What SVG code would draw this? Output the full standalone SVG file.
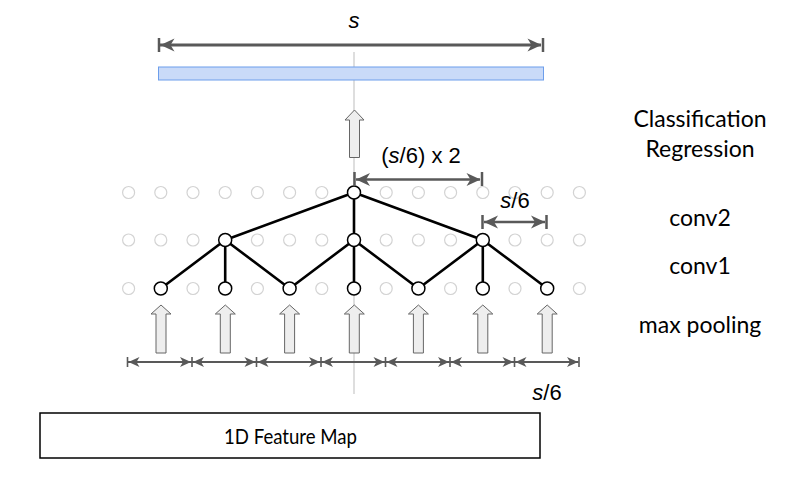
<svg xmlns="http://www.w3.org/2000/svg" width="800" height="484" viewBox="0 0 800 484">
<style>
.g{fill:#fff;stroke:#d3d3d3;stroke-width:1.2}
.n{fill:#fff;stroke:#000;stroke-width:1.5}
.e{stroke:#000;stroke-width:2.6;fill:none}
.d{stroke:#595959;fill:none}
.ah{fill:#595959;stroke:none}
.bar{stroke:#595959;stroke-width:2.5}
.up{fill:#eeeeee;stroke:#666;stroke-width:1}
.lab{font-family:Lato,"Noto Sans",sans-serif;font-size:23px;fill:#000;text-anchor:middle}
.fm{font-family:Lato,"Noto Sans",sans-serif;font-size:21px;fill:#000;text-anchor:middle}
.m{font-family:"Liberation Sans",Arial,sans-serif;font-size:22px;fill:#000;text-anchor:middle}
</style>
<defs>
<path id="hR" d="M0,0 L-14,-6.5 L-10,0 L-14,6.5 Z"/>
<path id="hL" d="M0,0 L14,-6.5 L10,0 L14,6.5 Z"/>
<path id="sR" d="M0,0 L-11,-5 L-8,0 L-11,5 Z"/>
<path id="sL" d="M0,0 L11,-5 L8,0 L11,5 Z"/>
<path id="upArrow" d="M-5,47 L-5,8 L-10,8 L0,-1 L10,8 L5,8 L5,47 Z"/>
</defs>

<!-- guide line -->
<line x1="354" y1="52" x2="354" y2="394" stroke="#c8c8c8" stroke-width="1.2"/>

<!-- top dimension s -->
<g id="dim-s">
<line class="d" x1="160" y1="45" x2="541" y2="45" stroke-width="2.8"/>
<line class="bar" x1="159" y1="38" x2="159" y2="52" stroke-width="2.8"/>
<line class="bar" x1="543" y1="38" x2="543" y2="52" stroke-width="2.8"/>
<use href="#hL" x="160.5" y="45" class="ah"/>
<use href="#hR" x="541.5" y="45" class="ah"/>
<text class="m" x="354" y="28" font-style="italic">s</text>
</g>

<g id="output-bar">
<rect x="158.5" y="67" width="385" height="13" fill="#c9daf8" stroke="#6d9eeb" stroke-width="1"/>
</g>

<!-- grid of gray dots -->
<g id="grid">
<g id="row-top">
<circle class="g" cx="128.6" cy="192.5" r="6"/><circle class="g" cx="160.8" cy="192.5" r="6"/><circle class="g" cx="193" cy="192.5" r="6"/><circle class="g" cx="225.2" cy="192.5" r="6"/><circle class="g" cx="257.4" cy="192.5" r="6"/><circle class="g" cx="289.6" cy="192.5" r="6"/><circle class="g" cx="321.8" cy="192.5" r="6"/><circle class="g" cx="386.2" cy="192.5" r="6"/><circle class="g" cx="418.4" cy="192.5" r="6"/><circle class="g" cx="450.6" cy="192.5" r="6"/><circle class="g" cx="482.8" cy="192.5" r="6"/><circle class="g" cx="515" cy="192.5" r="6"/><circle class="g" cx="547.2" cy="192.5" r="6"/><circle class="g" cx="579.4" cy="192.5" r="6"/>
</g>
<g id="row-mid">
<circle class="g" cx="128.6" cy="240" r="6"/><circle class="g" cx="160.8" cy="240" r="6"/><circle class="g" cx="193" cy="240" r="6"/><circle class="g" cx="257.4" cy="240" r="6"/><circle class="g" cx="289.6" cy="240" r="6"/><circle class="g" cx="321.8" cy="240" r="6"/><circle class="g" cx="386.2" cy="240" r="6"/><circle class="g" cx="418.4" cy="240" r="6"/><circle class="g" cx="450.6" cy="240" r="6"/><circle class="g" cx="515" cy="240" r="6"/><circle class="g" cx="547.2" cy="240" r="6"/><circle class="g" cx="579.4" cy="240" r="6"/>
</g>
<g id="row-bot">
<circle class="g" cx="128.6" cy="288.5" r="6"/><circle class="g" cx="193" cy="288.5" r="6"/><circle class="g" cx="257.4" cy="288.5" r="6"/><circle class="g" cx="321.8" cy="288.5" r="6"/><circle class="g" cx="386.2" cy="288.5" r="6"/><circle class="g" cx="450.6" cy="288.5" r="6"/><circle class="g" cx="515" cy="288.5" r="6"/><circle class="g" cx="579.4" cy="288.5" r="6"/>
</g>
</g>

<!-- connectors -->
<g id="edges">
<path class="e" d="M354,192.5 L225.2,240 M354,192.5 L354,240 M354,192.5 L482.8,240"/>
<path class="e" d="M225.2,240 L160.8,288.5 M225.2,240 L225.2,288.5 M225.2,240 L289.6,288.5"/>
<path class="e" d="M354,240 L289.6,288.5 M354,240 L354,288.5 M354,240 L418.4,288.5"/>
<path class="e" d="M482.8,240 L418.4,288.5 M482.8,240 L482.8,288.5 M482.8,240 L547.2,288.5"/>
</g>

<!-- nodes -->
<g id="conv2-node"><circle class="n" cx="354" cy="192.5" r="6.5"/></g>
<g id="conv1-a"><circle class="n" cx="225.2" cy="240" r="6.5"/></g>
<g id="conv1-b"><circle class="n" cx="354" cy="240" r="6.5"/></g>
<g id="conv1-c"><circle class="n" cx="482.8" cy="240" r="6.5"/></g>
<g id="pool-1"><circle class="n" cx="160.8" cy="288.5" r="6.5"/></g>
<g id="pool-2"><circle class="n" cx="225.2" cy="288.5" r="6.5"/></g>
<g id="pool-3"><circle class="n" cx="289.6" cy="288.5" r="6.5"/></g>
<g id="pool-4"><circle class="n" cx="354" cy="288.5" r="6.5"/></g>
<g id="pool-5"><circle class="n" cx="418.4" cy="288.5" r="6.5"/></g>
<g id="pool-6"><circle class="n" cx="482.8" cy="288.5" r="6.5"/></g>
<g id="pool-7"><circle class="n" cx="547.2" cy="288.5" r="6.5"/></g>

<!-- top up arrow -->
<g id="up-top">
<path class="up" d="M349.5,157.5 L349.5,120 L345,120 L354.5,110 L364,120 L359.5,120 L359.5,157.5 Z"/>
</g>

<!-- (s/6) x 2 dimension -->
<g id="dim-2">
<line class="d" x1="356" y1="179.5" x2="480" y2="179.5" stroke-width="2.6"/>
<line class="bar" x1="354.5" y1="172" x2="354.5" y2="186"/>
<line class="bar" x1="482" y1="172" x2="482" y2="186"/>
<use href="#hL" x="356" y="179.5" class="ah"/>
<use href="#hR" x="480.5" y="179.5" class="ah"/>
<text class="m" x="421" y="163"><tspan>(</tspan><tspan font-style="italic">s</tspan><tspan>/6) x 2</tspan></text>
</g>

<!-- s/6 dimension -->
<g id="dim-1">
<line class="d" x1="484" y1="222" x2="545" y2="222" stroke-width="2.6"/>
<line class="bar" x1="482.5" y1="215" x2="482.5" y2="229"/>
<line class="bar" x1="546.5" y1="215" x2="546.5" y2="229"/>
<use href="#hL" x="484" y="222" class="ah"/>
<use href="#hR" x="545" y="222" class="ah"/>
<text class="m" x="515" y="208"><tspan font-style="italic">s</tspan><tspan>/6</tspan></text>
</g>

<!-- pooling up arrows -->
<g id="pool-arrows">
<use href="#upArrow" x="161" y="306" class="up"/>
<use href="#upArrow" x="225.3" y="306" class="up"/>
<use href="#upArrow" x="289.6" y="306" class="up"/>
<use href="#upArrow" x="354.3" y="306" class="up"/>
<use href="#upArrow" x="418.4" y="306" class="up"/>
<use href="#upArrow" x="482.8" y="306" class="up"/>
<use href="#upArrow" x="547.2" y="306" class="up"/>
</g>

<!-- bottom s/6 segments -->
<g id="dim-segments">
<line class="d" x1="128" y1="362" x2="578.5" y2="362" stroke-width="1.8"/>
<g stroke="#595959" stroke-width="1.6">
<line x1="127.5" y1="357" x2="127.5" y2="367"/><line x1="192" y1="357" x2="192" y2="367"/><line x1="256.5" y1="357" x2="256.5" y2="367"/><line x1="321" y1="357" x2="321" y2="367"/><line x1="385.5" y1="357" x2="385.5" y2="367"/><line x1="450" y1="357" x2="450" y2="367"/><line x1="514.5" y1="357" x2="514.5" y2="367"/><line x1="579" y1="357" x2="579" y2="367"/>
</g>
<g class="ah">
<use href="#sL" x="128.5" y="362"/><use href="#sR" x="191" y="362"/>
<use href="#sL" x="193" y="362"/><use href="#sR" x="255.5" y="362"/>
<use href="#sL" x="257.5" y="362"/><use href="#sR" x="320" y="362"/>
<use href="#sL" x="322" y="362"/><use href="#sR" x="384.5" y="362"/>
<use href="#sL" x="386.5" y="362"/><use href="#sR" x="449" y="362"/>
<use href="#sL" x="451" y="362"/><use href="#sR" x="513.5" y="362"/>
<use href="#sL" x="515.5" y="362"/><use href="#sR" x="578" y="362"/>
</g>
<text class="m" x="547" y="400"><tspan font-style="italic">s</tspan><tspan>/6</tspan></text>
</g>

<!-- feature map -->
<g id="feature-map">
<rect x="40" y="413" width="500" height="45" fill="#fff" stroke="#000" stroke-width="1.5"/>
<text class="fm" x="290.5" y="444" textLength="133" lengthAdjust="spacingAndGlyphs">1D Feature Map</text>
</g>

<!-- side labels -->
<g id="labels">
<text class="lab" x="700" y="127">Classification</text>
<text class="lab" x="700" y="157">Regression</text>
<text class="lab" x="700" y="226">conv2</text>
<text class="lab" x="700" y="274">conv1</text>
<text class="lab" x="700" y="333">max pooling</text>
</g>
</svg>
